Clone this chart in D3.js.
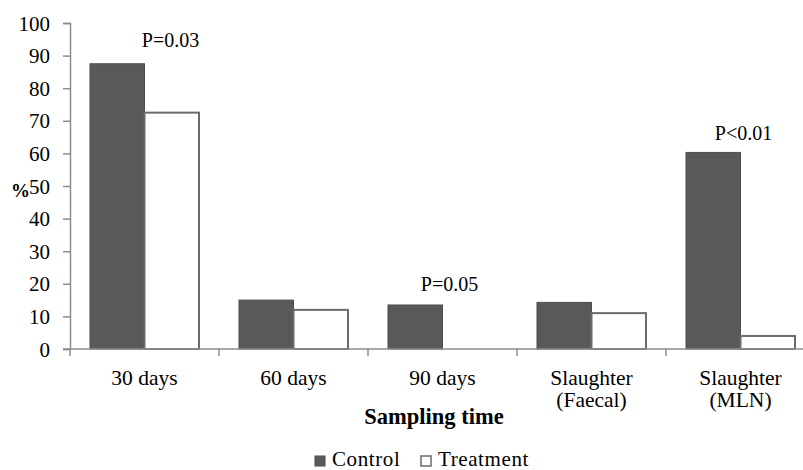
<!DOCTYPE html>
<html lang="en">
<head>
<meta charset="utf-8">
<title>Sampling time chart</title>
<script src="https://cdn.jsdelivr.net/npm/d3@7"></script>
<style>
  body { margin: 0; background: #fff; }
</style>
</head>
<body>
<div id="chart"></div>
<script>
// data
var categories = ["30 days", "60 days", "90 days", "Slaughter\n(Faecal)", "Slaughter\n(MLN)"];
var series = ["Control", "Treatment"];
var control = [87.5, 15, 13.5, 14.3, 60.3];
var treatment = [72.5, 12, 0, 11, 4];
var yTicks = [0, 10, 20, 30, 40, 50, 60, 70, 80, 90, 100];
// p-value notes: category index, height (in %), horizontal shift from category centre
var pLabels = [
  { cat: 0, text: "P=0.03", y: 92.6, dx: 26 },
  { cat: 2, text: "P=0.05", y: 17.8, dx: 7 },
  { cat: 4, text: "P<0.01", y: 64, dx: 3 }
];

var width = 803, height = 470;
var margin = { left: 70, top: 23, bottom: 121 };
var plotH = height - margin.top - margin.bottom; // 0 at y=349
var band = 149;
var serif = "Liberation Serif";

var svg = d3.select("#chart").append("svg")
    .attr("width", width)
    .attr("height", height);

var x = d3.scaleBand()
    .domain(d3.range(categories.length))
    .range([margin.left, margin.left + band * categories.length])
    .paddingInner(0)
    .paddingOuter(0);

var xIn = d3.scaleBand()
    .domain(series)
    .range([20, band - 20]);

var y = d3.scaleLinear()
    .domain([0, 100])
    .range([margin.top + plotH, margin.top]);

var color = { Control: "#595959", Treatment: "#ffffff" };
var stroke = { Control: "#4d4d4d", Treatment: "#6b6b6b" };

// y axis
var yAxis = svg.append("g")
    .attr("transform", "translate(" + margin.left + ",0)")
    .call(d3.axisLeft(y).tickValues(yTicks).tickSize(7).tickPadding(13))
    .attr("font-family", serif)
    .attr("font-size", 21);
yAxis.select(".domain").attr("stroke", "#8c8c8c").attr("stroke-width", 1.5);
yAxis.selectAll(".tick line").attr("stroke", "#8c8c8c").attr("stroke-width", 1.5);
yAxis.selectAll(".tick text")
    .attr("font-family", serif)
    .attr("fill", "#000")
    .attr("dy", "0.34em");

// bars
var rows = categories.map(function(c, i) {
  return { i: i, values: [{ s: "Control", v: control[i] }, { s: "Treatment", v: treatment[i] }] };
});

var groups = svg.append("g").selectAll("g")
  .data(rows)
  .join("g")
    .attr("transform", function(d) { return "translate(" + x(d.i) + ",0)"; });

groups.selectAll("rect")
  .data(function(d) { return d.values.filter(function(e) { return e.v > 0; }); })
  .join("rect")
    .attr("x", function(d) { return xIn(d.s); })
    .attr("width", xIn.bandwidth())
    .attr("y", function(d) { return y(d.v); })
    .attr("height", function(d) { return y(0) - y(d.v); })
    .attr("fill", function(d) { return color[d.s]; })
    .attr("stroke", function(d) { return stroke[d.s]; })
    .attr("stroke-width", function(d) { return d.s === "Control" ? 1 : 2; });

// x axis
var xAxisG = svg.append("g");
xAxisG.append("line")
    .attr("x1", margin.left - 7).attr("x2", width)
    .attr("y1", y(0)).attr("y2", y(0))
    .attr("stroke", "#8c8c8c").attr("stroke-width", 1.5);
xAxisG.selectAll("line.tk")
  .data(d3.range(categories.length))
  .join("line")
    .attr("class", "tk")
    .attr("x1", function(d) { return x(d); })
    .attr("x2", function(d) { return x(d); })
    .attr("y1", y(0)).attr("y2", y(0) + 7)
    .attr("stroke", "#8c8c8c").attr("stroke-width", 1.5);

var xl = xAxisG.selectAll("text.cat")
  .data(categories)
  .join("text")
    .attr("class", "cat")
    .attr("text-anchor", "middle")
    .attr("font-family", serif)
    .attr("font-size", 21.5)
    .attr("transform", function(d, i) { return "translate(" + (x(i) + band / 2) + "," + (y(0) + 36) + ")"; });
xl.selectAll("tspan")
  .data(function(d) { return d.split("\n"); })
  .join("tspan")
    .attr("x", 0)
    .attr("dy", function(d, i) { return i ? 22 : 0; })
    .text(function(d) { return d; });

// p values
svg.selectAll("text.p")
  .data(pLabels)
  .join("text")
    .attr("class", "p")
    .attr("text-anchor", "middle")
    .attr("font-family", serif)
    .attr("font-size", 20)
    .attr("x", function(d) { return x(d.cat) + band / 2 + d.dx; })
    .attr("y", function(d) { return y(d.y); })
    .text(function(d) { return d.text; });

// axis titles
svg.append("text")
    .attr("x", 11).attr("y", 197)
    .attr("font-family", serif)
    .attr("font-size", 19)
    .attr("font-weight", "bold")
    .text("%");

svg.append("text")
    .attr("x", 434).attr("y", 424)
    .attr("text-anchor", "middle")
    .attr("font-family", serif)
    .attr("font-size", 22.5)
    .attr("font-weight", "bold")
    .text("Sampling time");

// legend
var legend = svg.append("g").attr("transform", "translate(315,456)");
var lx = [0, 106];
series.forEach(function(s, i) {
  legend.append("rect")
      .attr("x", lx[i]).attr("y", 0)
      .attr("width", 10).attr("height", 10)
      .attr("fill", color[s])
      .attr("stroke", stroke[s])
      .attr("stroke-width", i ? 1.5 : 1);
  legend.append("text")
      .attr("x", lx[i] + 17).attr("y", 10)
      .attr("font-family", serif)
      .attr("font-size", 21)
      .attr("letter-spacing", 0.6)
      .text(s);
});
</script>
</body>
</html>
